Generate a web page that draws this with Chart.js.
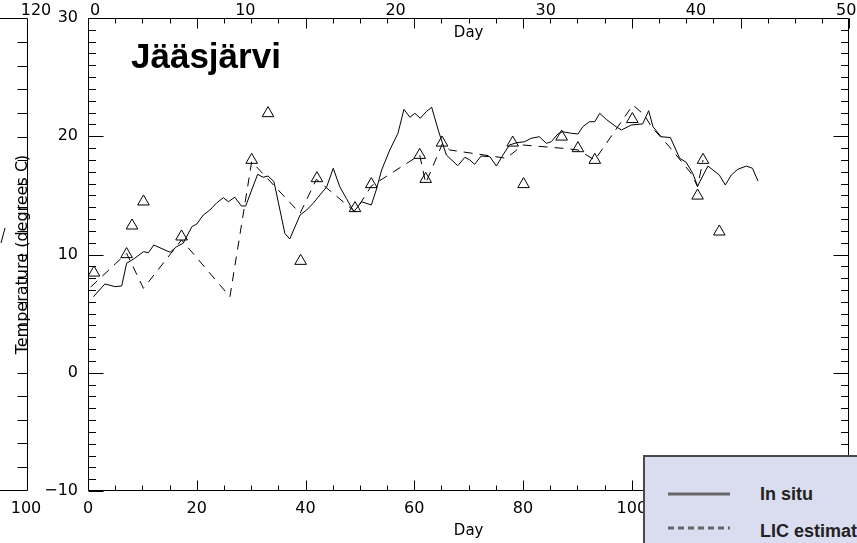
<!DOCTYPE html>
<html><head><meta charset="utf-8">
<script src="https://cdn.jsdelivr.net/npm/chart.js@4.4.1/dist/chart.umd.min.js"></script>
<style>
html,body{margin:0;padding:0;background:#fff;overflow:hidden;}
#wrap{position:relative;width:857px;height:543px;overflow:hidden;}
#legend{position:absolute;left:643px;top:455px;width:240px;height:100px;background:#dadcef;border-left:2px solid #4a4a4a;border-top:2px solid #4a4a4a;box-sizing:border-box;}
#legend svg{position:absolute;left:0;top:0;}
</style></head>
<body>
<div id="wrap">
<canvas id="c" width="857" height="543"></canvas>
<div id="legend">
<svg width="240" height="100">
<line x1="23" y1="37" x2="85" y2="37" stroke="#666" stroke-width="3"/>
<line x1="23" y1="71" x2="85" y2="71" stroke="#666" stroke-width="3" stroke-dasharray="6,4"/>
<text x="115" y="43" font-family="Liberation Sans, Arial, sans-serif" font-weight="bold" font-size="18" fill="#222">In situ</text>
<text x="115" y="80" font-family="Liberation Sans, Arial, sans-serif" font-weight="bold" font-size="18" fill="#222">LIC estimate</text>
</svg>
</div>
</div>
<script>
// ---- data ----
const inSituDay = [1.0,3.1,5.0,6.2,7.1,8.6,10.2,11.1,12.1,15.1,16.3,17.5,19.1,20.0,21.2,22.4,23.7,24.9,25.8,27.0,28.2,29.0,30.1,31.2,32.2,33.1,34.2,36.2,37.1,39.0,40.2,41.4,43.9,45.1,46.3,47.5,48.9,50.3,52.1,53.0,54.0,55.5,57.0,58.1,59.2,60.1,61.1,62.2,63.2,64.4,65.9,68.0,69.3,70.2,71.1,72.3,73.9,75.1,76.3,77.5,78.8,80.3,81.5,83.0,84.3,85.2,86.4,87.3,88.9,90.1,91.0,92.2,93.2,94.1,95.3,97.1,98.1,99.9,102.0,103.1,103.9,105.4,107.1,108.8,110.0,111.2,112.1,114.0,116.1,117.2,118.3,119.5,121.1,122.2,123.2];
const inSituTemp = [6.43,7.51,7.28,7.34,9.26,9.68,10.24,10.15,10.8,10.19,10.66,10.95,12.35,12.58,13.34,13.76,14.38,14.8,14.47,14.84,14.1,14.1,15.45,16.78,16.53,16.64,16.16,11.79,11.31,13.34,13.76,14.33,15.73,17.29,15.73,14.75,13.62,14.46,14.19,15.45,17.15,18.84,20.25,22.28,21.6,21.94,21.52,22.08,22.45,20.53,18.41,17.51,18.22,18.0,17.63,18.33,18.27,17.48,18.41,19.26,19.45,19.54,19.83,19.96,19.4,19.54,20.19,20.38,20.25,20.19,20.81,21.23,21.23,21.94,21.43,20.81,20.53,20.95,21.04,22.16,20.81,19.96,19.89,18.14,17.8,16.87,15.79,17.48,16.72,15.88,16.72,17.21,17.48,17.29,16.22];
const licDay = [0.5,7.1,10.2,17.2,26.1,30.1,39.0,42.0,49.1,52.1,61.0,62.1,65.2,66.5,76.9,80.0,87.3,90.1,93.2,100.2,102.3,103.6,106.9,110.9,112.1,113.1];
const licTemp = [7.25,10.1,7.14,11.23,6.43,17.85,13.48,16.36,13.62,15.79,18.41,16.02,19.4,18.84,18.14,19.26,18.98,18.84,17.99,22.64,21.8,20.81,19.12,16.87,15.73,17.99];
const obsDay = [1.1,7.1,8.1,10.2,17.2,30.1,33.1,39.1,42.1,49.1,52.1,61.0,62.1,65.1,78.1,80.1,87.1,90.1,93.2,100.1,112.1,113.1,116.1];
const obsTemp = [8.46,10.02,12.44,14.47,11.51,17.99,21.94,9.45,16.44,13.91,15.94,18.41,16.38,19.45,19.45,15.94,19.96,18.98,17.99,21.44,14.97,17.99,11.93];
const bottomDayTicks = [0,20,40,60,80,100,120,140];
const topDayTicks = [0,10,20,30,40,50];
const tempTicks = [-10,0,10,20,30];
const leftPanelTopLabel = '120';
const leftPanelBottomLabel = '100';
const titleText = 'Jääsjärvi';

const pts = (xs, ys) => xs.map((x, i) => ({x: x, y: ys[i]}));
const FONT = '"DejaVu Sans", sans-serif';
const fixTicks = arr => (scale) => { scale.ticks = arr.map(v => ({value: v})); };
const minusFmt = v => String(v).replace('-', '\u2212');

const idlPlugin = {
  id: 'idl',
  beforeDatasetsDraw(chart) {
    const {ctx, chartArea: a, scales} = chart;
    const x = scales.x, y = scales.y;
    const L = Math.round(a.left) + 0.5, R = Math.round(a.right) - 0.5;
    const T = Math.round(a.top) + 0.5, B = Math.round(a.bottom) - 0.5;
    ctx.save();
    ctx.strokeStyle = '#000';
    ctx.lineWidth = 1;
    ctx.beginPath();
    ctx.rect(L, T, R - L, B - T);
    for (let v = y.min; v <= y.max; v += 1) {
      const py = Math.round(y.getPixelForValue(v)) + 0.5;
      const len = (v % 10 === 0) ? 15 : 7.5;
      ctx.moveTo(L, py); ctx.lineTo(L + len, py);
      ctx.moveTo(R, py); ctx.lineTo(R - len, py);
    }
    for (let v = x.min; v <= x.max; v += 5) {
      const px = Math.round(x.getPixelForValue(v)) + 0.5;
      const len = (v % 20 === 0) ? 10 : 5;
      ctx.moveTo(px, B); ctx.lineTo(px, B - len);
      ctx.moveTo(px, T); ctx.lineTo(px, T + len);
    }
    // remnant of neighbouring panel
    const RX = 27.5;
    ctx.moveTo(RX, T); ctx.lineTo(RX, B);
    ctx.moveTo(0, T); ctx.lineTo(RX, T);
    ctx.moveTo(0, B); ctx.lineTo(RX, B);
    for (let i = 1; i < 20; i++) {
      const py = Math.round(T + (B - T) * i / 20) + 0.5;
      ctx.moveTo(RX, py); ctx.lineTo(RX - 10, py);
    }
    ctx.moveTo(1, 243); ctx.lineTo(5, 228);
    ctx.stroke();
    ctx.fillStyle = '#000';
    ctx.font = '16px ' + FONT;
    ctx.textAlign = 'center';
    ctx.textBaseline = 'middle';
    ctx.fillText(leftPanelTopLabel, 36, 11);
    ctx.fillText(leftPanelBottomLabel, 26, 509);
    ctx.font = '15px ' + FONT;
    ctx.fillText('Day', (a.left + a.right) / 2, 33);
    ctx.font = 'bold 35px "Liberation Sans", Arial, sans-serif';
    ctx.textAlign = 'left';
    ctx.textBaseline = 'alphabetic';
    ctx.fillText(titleText, 131, 68);
    ctx.restore();
  }
};

new Chart(document.getElementById('c'), {
  type: 'line',
  data: {
    datasets: [
      {label: 'In situ', data: pts(inSituDay, inSituTemp), borderColor: '#000', borderWidth: 1, pointRadius: 0, tension: 0, fill: false, xAxisID: 'x', yAxisID: 'y'},
      {label: 'LIC estimate', data: pts(licDay, licTemp), borderColor: '#000', borderWidth: 1, borderDash: [9, 7], pointRadius: 0, tension: 0, fill: false, xAxisID: 'x', yAxisID: 'y'},
      {label: 'Observations', data: pts(obsDay, obsTemp), showLine: false, pointStyle: 'triangle', pointRadius: 6.7, borderColor: '#000', borderWidth: 1, backgroundColor: 'rgba(0,0,0,0)', xAxisID: 'x', yAxisID: 'y'}
    ]
  },
  options: {
    responsive: false,
    maintainAspectRatio: false,
    animation: false,
    events: [],
    layout: {padding: {left: 0, right: 7, top: 0, bottom: 0}},
    plugins: {legend: {display: false}, tooltip: {enabled: false}},
    scales: {
      x: {
        type: 'linear', position: 'bottom', min: 0, max: 140,
        afterBuildTicks: fixTicks(bottomDayTicks),
        grid: {display: false, drawTicks: false},
        border: {display: false},
        ticks: {color: '#000', font: {family: FONT, size: 16}, padding: 8, maxRotation: 0, autoSkip: false},
        title: {display: true, text: 'Day', color: '#000', font: {family: FONT, size: 15}, padding: {top: 0, bottom: 3}},
        afterFit: s => { s.height = 52; s.paddingLeft = 0; s.paddingRight = 0; }
      },
      x2: {
        type: 'linear', position: 'top', min: -0.47, max: 50.2,
        afterBuildTicks: fixTicks(topDayTicks),
        grid: {display: false, drawTicks: false},
        border: {display: false},
        ticks: {color: '#000', font: {family: FONT, size: 16}, padding: -2, maxRotation: 0, autoSkip: false},
        afterFit: s => { s.height = 18; s.paddingLeft = 0; s.paddingRight = 0; }
      },
      y: {
        type: 'linear', position: 'left', min: -10, max: 30,
        afterBuildTicks: fixTicks(tempTicks),
        grid: {display: false, drawTicks: false},
        border: {display: false},
        ticks: {color: '#000', font: {family: FONT, size: 16}, padding: 10, callback: minusFmt},
        title: {display: true, text: 'Temperature (degrees C)', color: '#000', font: {family: FONT, size: 16}, padding: {top: 13, bottom: 0}},
        afterFit: s => { s.width = 88; s.paddingTop = 0; s.paddingBottom = 0; }
      }
    }
  },
  plugins: [idlPlugin]
});
</script>
</body></html>
